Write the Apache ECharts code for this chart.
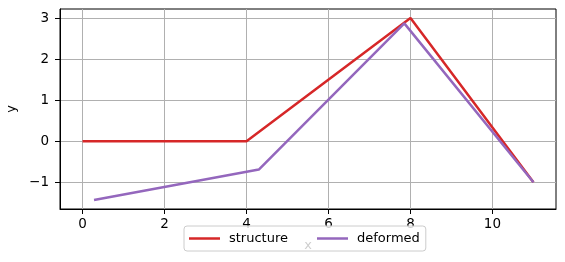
<!DOCTYPE html>
<html>
<head>
<meta charset="utf-8">
<script src="https://cdn.jsdelivr.net/npm/echarts@6/dist/echarts.min.js"></script>
<style>
html,body{margin:0;padding:0;background:#fff;}
#chart{width:565px;height:262px;}
</style>
</head>
<body>
<div id="chart"></div>
<script>
const structureX = [0, 4, 8, 11];
const structureY = [0, 0, 3, -1];
const deformedX = [0.28, 4.3, 7.85, 11];
const deformedY = [-1.43, -0.69, 2.87, -1.0];
const xTicks = [0, 2, 4, 6, 8, 10];
const yTicks = [-1, 0, 1, 2, 3];

const FONT = 'DejaVu Sans';
const chart = echarts.init(document.getElementById('chart'), null, {renderer: 'canvas'});
const zip = (xs, ys) => xs.map((x, i) => [x, ys[i]]);
const fmt = v => String(v).replace('-', '\u2212');

chart.setOption({
  animation: false,
  backgroundColor: '#fff',
  grid: {left: 60, right: 9, top: 9, bottom: 53, outerBoundsMode: 'none', containLabel: false,
         show: true, borderColor: '#000', borderWidth: 1, backgroundColor: 'transparent'},
  xAxis: {
    type: 'value', min: -0.55, max: 11.55,
    name: 'x', nameLocation: 'middle', nameGap: 30,
    nameTextStyle: {fontFamily: FONT, fontSize: 13, color: '#000'},
    axisLine: {show: true, onZero: false, lineStyle: {color: '#000', width: 1}},
    axisTick: {show: true, length: 5, lineStyle: {color: '#000'}, customValues: xTicks},
    axisLabel: {fontFamily: FONT, fontSize: 13.5, color: '#000', margin: 8, customValues: xTicks, formatter: fmt},
    splitLine: {show: true, lineStyle: {color: '#b0b0b0', width: 1}}
  },
  yAxis: {
    type: 'value', min: -1.65, max: 3.22,
    name: 'y', nameLocation: 'middle', nameGap: 35, nameRotate: 90,
    nameTextStyle: {fontFamily: FONT, fontSize: 13, color: '#000'},
    axisLine: {show: true, onZero: false, lineStyle: {color: '#000', width: 1}},
    axisTick: {show: true, length: 5, lineStyle: {color: '#000'}, customValues: yTicks},
    axisLabel: {fontFamily: FONT, fontSize: 13.5, color: '#000', margin: 11, customValues: yTicks, formatter: fmt},
    splitLine: {show: true, lineStyle: {color: '#b0b0b0', width: 1}}
  },
  legend: {
    left: 184, top: 226,
    padding: [6, 6, 6, 5],
    itemGap: 29, itemWidth: 31, itemHeight: 2.5,
    icon: 'rect',
    backgroundColor: 'rgba(255,255,255,0.8)',
    borderColor: '#cccccc', borderWidth: 1, borderRadius: 3,
    textStyle: {fontFamily: FONT, fontSize: 13, color: '#000', padding: [0, 0, 0, 4]},
    data: ['structure', 'deformed']
  },
  series: [
    {name: 'structure', type: 'line', data: zip(structureX, structureY), symbol: 'none',
     lineStyle: {color: '#d62728', width: 2.5}, itemStyle: {color: '#d62728'}},
    {name: 'deformed', type: 'line', data: zip(deformedX, deformedY), symbol: 'none',
     lineStyle: {color: '#9467bd', width: 2.5}, itemStyle: {color: '#9467bd'}}
  ]
});
</script>
</body>
</html>
